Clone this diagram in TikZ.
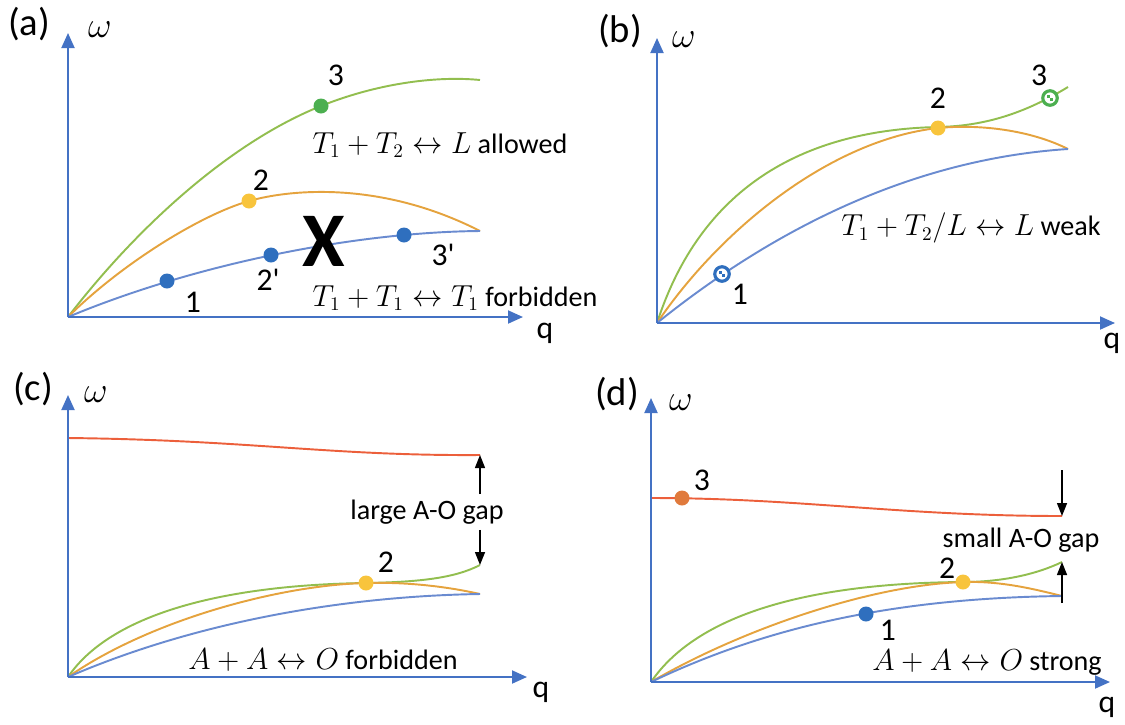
\documentclass[tikz,border=0pt]{standalone}
\usepackage{fontspec}
\setmainfont{Carlito}
\usetikzlibrary{arrows.meta,positioning}
\definecolor{dispaxis}{HTML}{4472C4}
\definecolor{dispblue}{HTML}{6A8BD0}
\definecolor{disporange}{HTML}{E5A33E}
\definecolor{dispgreen}{HTML}{92BE4F}
\definecolor{dispred}{HTML}{EC5F3B}
\definecolor{dotblue}{HTML}{2F6FBE}
\definecolor{dotyellow}{HTML}{F8C43C}
\definecolor{dotgreen}{HTML}{4CAF50}
\definecolor{dotorange}{HTML}{E07A3C}

\begin{document}
\begin{tikzpicture}[
    x=0.02cm, y=-0.02cm,
    axis/.style={-{Triangle[length=0.3cm,width=0.26cm]}, line width=1.1pt, draw=dispaxis},
    branch/.style={line width=1.1pt},
    dot/.style={circle, fill=#1, minimum size=0.3cm, inner sep=0pt},
    hollowdot/.style={circle, draw=#1, fill=white, line width=1.8pt, minimum size=0.29cm, inner sep=0pt,
        path picture={\fill[#1] (path picture bounding box.center) rectangle ++(-0.065cm,0.065cm);
                      \fill[#1] (path picture bounding box.center) rectangle ++(0.065cm,-0.065cm);}},
    tag/.style={font=\fontsize{22}{24}\selectfont},
    lbl/.style={font=\fontsize{18}{20}\selectfont},
    note/.style={font=\fontsize{16}{19}\selectfont, inner sep=1pt},
    gap/.style={-{Triangle[length=0.26cm,width=0.2cm]}, line width=0.8pt}
]
    \useasboundingbox (0,0) rectangle (1125,724);

    % (a) Nodes
    \coordinate (ao) at (68,317);
    \coordinate (ay) at (68,33);
    \coordinate (ax) at (523,317);
    \node (atag) [tag] at (29,24) {(a)};
    \node (aw) [lbl, font=\fontsize{20}{22}\selectfont] at (100,30) {$\omega$};
    \node (aq) [lbl] at (545,333) {q};

    \draw[branch, dispgreen] (68,317) .. controls (138,226) and (231,142) .. (321,106)
        .. controls (381,82) and (440,76) .. (480,80);
    \draw[branch, disporange] (68,317) .. controls (120,265) and (200,215) .. (249,201)
        .. controls (289,189.6) and (380,180) .. (480,231);
    \draw[branch, dispblue] (68,317) .. controls (200,262) and (360,232) .. (480,231);

    \node (a1) [dot=dotblue] at (167,281) {};
    \node (a2p) [dot=dotblue] at (271,255) {};
    \node (a3p) [dot=dotblue] at (404,235) {};
    \node (a2) [dot=dotyellow] at (249,201) {};
    \node (a3) [dot=dotgreen] at (321,106) {};
    \node (a1lbl) [lbl] at (193,302) {1};
    \node (a2plbl) [lbl] at (268,280) {2\textquotesingle};
    \node (a3plbl) [lbl] at (443,255) {3\textquotesingle};
    \node (a2lbl) [lbl] at (261,180) {2};
    \node (a3lbl) [lbl] at (336,75) {3};
    \node (across) [font=\fontsize{44}{48}\selectfont\bfseries, inner sep=0pt] at (324,241) {X};
    \node (aallow) [note] at (440,145) {$T_1+T_2\leftrightarrow L$ allowed};
    \node (aforbid) [note] at (455,298) {$T_1+T_1\leftrightarrow T_1$ forbidden};

    % (b) Nodes
    \coordinate (bo) at (657,323);
    \coordinate (by) at (657,38);
    \coordinate (bx) at (1115,323);
    \node (btag) [tag] at (620,31) {(b)};
    \node (bw) [lbl, font=\fontsize{20}{22}\selectfont] at (684,40) {$\omega$};
    \node (bq) [lbl] at (1112,343) {q};

    \draw[branch, dispgreen] (657,323) .. controls (700,190) and (800,130) .. (938,127)
        .. controls (990,126) and (1030,110) .. (1068,87);
    \draw[branch, disporange] (657,323) .. controls (720,230) and (830,140) .. (938,128)
        .. controls (980,124) and (1030,130) .. (1068,149);
    \draw[branch, dispblue] (657,323) .. controls (760,240) and (900,160) .. (1068,149);

    \node (b1) [hollowdot=dotblue] at (722,274) {};
    \node (b2) [dot=dotyellow] at (938,128) {};
    \node (b3) [hollowdot=dotgreen] at (1050,98) {};
    \node (b1lbl) [lbl] at (740,294) {1};
    \node (b2lbl) [lbl] at (938,98) {2};
    \node (b3lbl) [lbl] at (1039,75) {3};
    \node (bweak) [note] at (971,228) {$T_1+T_2/L\leftrightarrow L$ weak};

    % (c) Nodes
    \coordinate (co) at (68,677);
    \coordinate (cy) at (68,395);
    \coordinate (cx) at (527,677);
    \node (ctag) [tag] at (33,389) {(c)};
    \node (cw) [lbl, font=\fontsize{20}{22}\selectfont] at (96,395) {$\omega$};
    \node (cq) [lbl] at (541,692) {q};

    \draw[branch, dispred] (68,438) .. controls (250,440) and (330,456) .. (480,455);
    \draw[branch, dispgreen] (68,677) .. controls (110,615) and (220,585) .. (366,583)
        .. controls (420,582) and (455,578) .. (480,565);
    \draw[branch, disporange] (68,677) .. controls (150,620) and (280,585) .. (366,583)
        .. controls (400,582) and (440,585) .. (480,594);
    \draw[branch, dispblue] (68,677) .. controls (200,620) and (350,596) .. (480,594);

    \coordinate (cred) at (480,455);
    \coordinate (cgreen) at (480,565);
    \node (c2) [dot=dotyellow] at (366,583) {};
    \node (c2lbl) [lbl] at (386,562) {2};
    \node (cgap) [note, inner sep=3pt] at (427,512) {large A-O gap};
    \node (cforbid) [note] at (323,660) {$A+A\leftrightarrow O$ forbidden};

    % (d) Nodes
    \coordinate (do) at (651,682);
    \coordinate (dy) at (651,398);
    \coordinate (dx) at (1110,682);
    \node (dtag) [tag] at (617,394) {(d)};
    \node (dw) [lbl, font=\fontsize{20}{22}\selectfont] at (681,403) {$\omega$};
    \node (dq) [lbl] at (1107,707) {q};

    \draw[branch, dispred] (651,498) .. controls (800,498) and (900,516) .. (1062,516);
    \draw[branch, dispgreen] (651,682) .. controls (700,610) and (820,583) .. (963,582)
        .. controls (1000,582) and (1035,575) .. (1062,562);
    \draw[branch, disporange] (651,682) .. controls (740,630) and (870,585) .. (963,582)
        .. controls (1000,581) and (1030,588) .. (1062,596);
    \draw[branch, dispblue] (651,682) .. controls (770,625) and (900,598) .. (1062,596);

    \coordinate (dred) at (1062,516);
    \coordinate (dgreen) at (1062,562);
    \coordinate (dtop) at (1062,470);
    \coordinate (dbot) at (1062,603);
    \node (d1) [dot=dotblue] at (866,614) {};
    \node (d2) [dot=dotyellow] at (963,582) {};
    \node (d3) [dot=dotorange] at (682,498) {};
    \node (d1lbl) [lbl] at (888,630) {1};
    \node (d2lbl) [lbl] at (947,568) {2};
    \node (d3lbl) [lbl] at (702,480) {3};
    \node (dgap) [note] at (1021,540) {small A-O gap};
    \node (dstrong) [note] at (987,663) {$A+A\leftrightarrow O$ strong};

    % Connectors
    \draw[axis] (ao) -- (ay);
    \draw[axis] (ao) -- (ax);
    \draw[axis] (bo) -- (by);
    \draw[axis] (bo) -- (bx);
    \draw[axis] (co) -- (cy);
    \draw[axis] (co) -- (cx);
    \draw[axis] (do) -- (dy);
    \draw[axis] (do) -- (dx);
    \draw[gap] (cgap.north -| cred) -- (cred);
    \draw[gap] (cgap.south -| cgreen) -- (cgreen);
    \draw[gap] (dtop) -- (dred);
    \draw[gap] (dbot) -- (dgreen);
\end{tikzpicture}
\end{document}
